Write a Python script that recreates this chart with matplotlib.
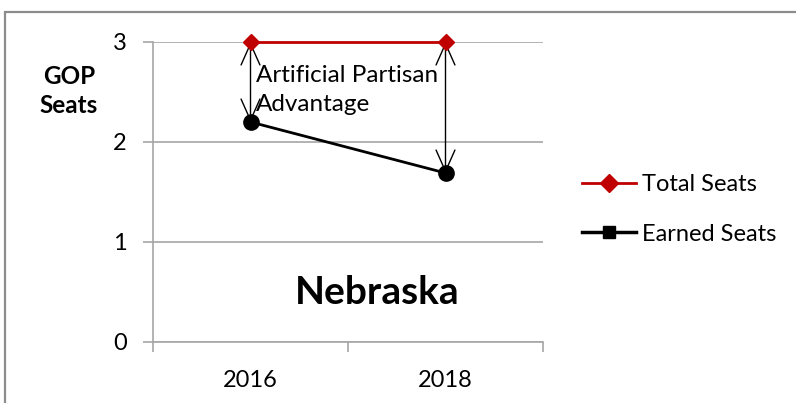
import numpy as np
import matplotlib
matplotlib.use("Agg")
import matplotlib.pyplot as plt
from matplotlib.lines import Line2D
from matplotlib.patches import Rectangle

years = ["2016", "2018"]
total_seats = [3, 3]
earned_seats = [2.2, 1.69]
y_ticks = [0, 1, 2, 3]

RED, BLACK, GRID = "#C00000", "#000000", "#A6A6A6"

plt.rcParams.update({"font.family": "Lato", "font.size": 17})
fig = plt.figure(figsize=(7.96, 4.03), dpi=100)
ax = fig.add_axes([153 / 796, 1 - 342 / 403, 390 / 796, 300 / 403])

# outer chart frame
fig.patches.append(Rectangle((5 / 796, -0.1), 1.2, 1 - 12 / 403 + 0.1,
                             transform=fig.transFigure, fill=False,
                             edgecolor="#8C8C8C", lw=1.6))

x = np.arange(len(years))
ax.plot(x, total_seats, color=RED, lw=2.0, marker="D", ms=8,
        mfc=RED, mec=RED, zorder=4, clip_on=False)
ax.plot(x, earned_seats, color=BLACK, lw=2.0, marker="o", ms=11,
        mfc=BLACK, mec=BLACK, zorder=4, clip_on=False)

for xi, t, e in zip(x, total_seats, earned_seats):
    ax.annotate("", xy=(xi, e), xytext=(xi, t),
                arrowprops=dict(arrowstyle="<->,head_length=0.9,head_width=0.4",
                                color="black", lw=1.0, shrinkA=0, shrinkB=0),
                zorder=3)

ax.text(0.03, 2.765, "Artificial Partisan\nAdvantage", ha="left", va="top",
        fontsize=17.5, linespacing=1.45)
ax.text(0.65, 0.5, "Nebraska", ha="center", va="center",
        fontsize=28, fontweight="bold")

ax.set_xlim(-0.5, 1.5)
ax.set_ylim(0, 3)
ax.set_yticks(y_ticks)
ax.set_xticks(x)
ax.set_xticklabels(years)
ax.set_xticks([-0.5, 0.5, 1.5], minor=True)
ax.tick_params(axis="x", which="major", length=0, pad=20)
ax.tick_params(axis="x", which="minor", length=7, color=GRID, width=1.2)
ax.tick_params(axis="y", length=7, color=GRID, width=1.2, pad=12)
ax.grid(axis="y", color=GRID, lw=1.2)
ax.set_axisbelow(True)
for s in ("top", "right"):
    ax.spines[s].set_visible(False)
for s in ("left", "bottom"):
    ax.spines[s].set_color(GRID)
    ax.spines[s].set_linewidth(1.2)

fig.text(69 / 796, 1 - 91 / 403, "GOP\nSeats", ha="center", va="center",
         fontsize=17.5, fontweight="bold", linespacing=1.35)

handles = [
    Line2D([], [], color=RED, lw=2.0, marker="D", ms=9, mfc=RED, mec=RED),
    Line2D([], [], color=BLACK, lw=2.5, marker="s", ms=8, mfc=BLACK, mec=BLACK),
]
fig.legend(handles, ["Total Seats", "Earned Seats"], loc="center left",
           bbox_to_anchor=(582 / 796, 1 - 209.5 / 403), frameon=False,
           borderpad=0, borderaxespad=0, handlelength=2.3, handletextpad=0.25,
           labelspacing=1.2, fontsize=17)

fig.savefig("out.png", dpi=100)
